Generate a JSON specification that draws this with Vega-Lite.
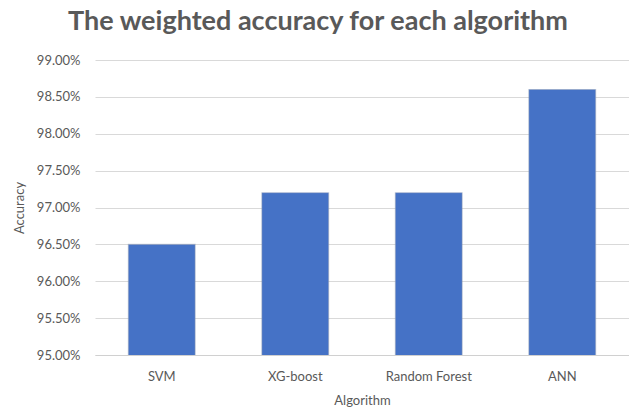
{
  "$schema": "https://vega.github.io/schema/vega-lite/v6.json",
  "autosize": "none",
  "width": 534,
  "height": 295,
  "padding": {"left": 95, "top": 60, "right": 0, "bottom": 55},
  "background": "white",
  "title": {
    "text": "The weighted accuracy for each algorithm",
    "font": "Lato",
    "fontSize": 27,
    "fontWeight": "bold",
    "color": "#595959",
    "anchor": "middle",
    "frame": "group",
    "dx": -44,
    "offset": 18
  },
  "data": {
    "values": [
      {"algorithm": "SVM", "accuracy": 0.965},
      {"algorithm": "XG-boost", "accuracy": 0.972},
      {"algorithm": "Random Forest", "accuracy": 0.972},
      {"algorithm": "ANN", "accuracy": 0.986}
    ]
  },
  "mark": {
    "type": "bar",
    "clip": true,
    "fill": "#4572c6",
    "stroke": "#8f9bb3",
    "strokeOpacity": 0.45,
    "strokeWidth": 1.2
  },
  "encoding": {
    "x": {
      "field": "algorithm",
      "type": "nominal",
      "sort": null,
      "title": "Algorithm",
      "scale": {"paddingInner": 0.5, "paddingOuter": 0.25},
      "axis": {
        "labelAngle": 0,
        "labelFont": "Lato",
        "labelFontSize": 13,
        "labelColor": "#595959",
        "labelPadding": 15,
        "ticks": false,
        "domainColor": "#d0d0d0",
        "domainWidth": 1,
        "titleFont": "Lato",
        "titleFontSize": 13,
        "titleFontWeight": "normal",
        "titleColor": "#595959",
        "titlePadding": 11
      }
    },
    "y": {
      "field": "accuracy",
      "type": "quantitative",
      "title": "Accuracy",
      "scale": {"domain": [0.95, 0.99], "zero": false, "nice": false},
      "axis": {
        "format": ".2%",
        "values": [0.95, 0.955, 0.96, 0.965, 0.97, 0.975, 0.98, 0.985, 0.99],
        "labelFont": "Lato",
        "labelFontSize": 13,
        "labelColor": "#595959",
        "labelPadding": 15,
        "ticks": false,
        "domain": false,
        "gridColor": "#d9d9d9",
        "gridWidth": 1,
        "titleFont": "Lato",
        "titleFontSize": 13,
        "titleFontWeight": "normal",
        "titleColor": "#595959",
        "titlePadding": 10
      }
    }
  },
  "config": {"view": {"stroke": null}}
}
